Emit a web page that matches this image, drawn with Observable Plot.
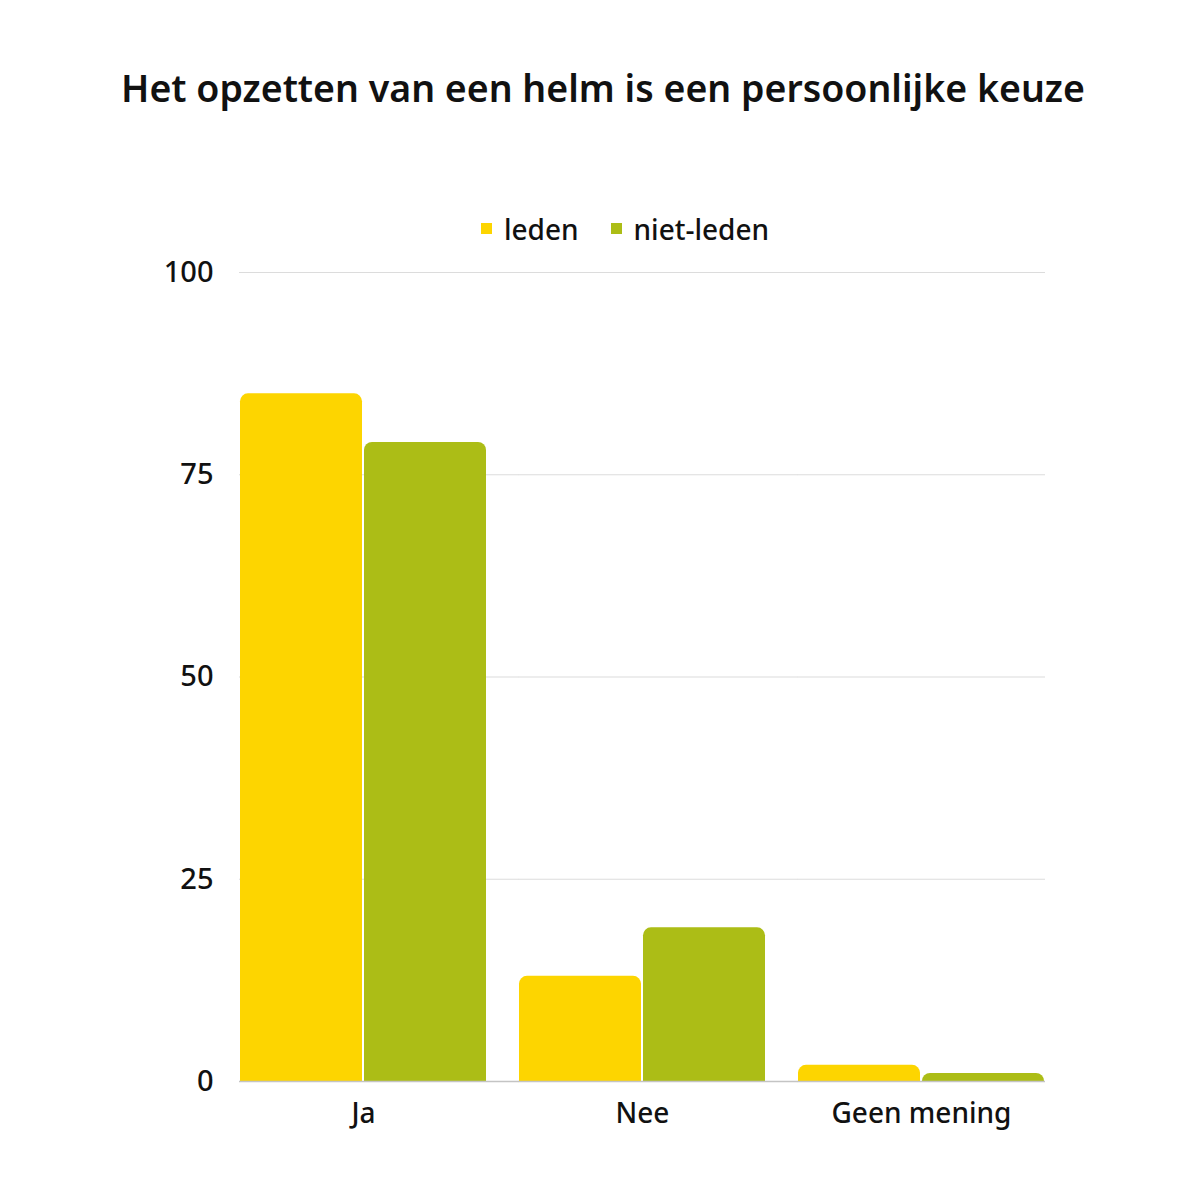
<!DOCTYPE html>
<html>
<head>
<meta charset="utf-8">
<script src="https://cdn.jsdelivr.net/npm/d3@7"></script>
<script src="https://cdn.jsdelivr.net/npm/@observablehq/plot@0.6"></script>
<style>
  html, body { margin: 0; padding: 0; background: #fff; }
  body { width: 1200px; font-family: "Noto Sans", sans-serif; color: #111; }
  #title { box-sizing: border-box; height: 150px; padding-top: 66px; text-align: center; font-size: 37.5px; line-height: 44px; font-weight: 600; padding-left: 6px; }
  #legend { box-sizing: border-box; height: 80px; padding-top: 56px; text-align: center; font-size: 28px; line-height: 34px; font-weight: 500; padding-left: 50px; }
  #legend span.item { display: inline-flex; align-items: center; margin: 0 16px; }
  #legend span.sw { display: inline-block; width: 11px; height: 11px; margin-right: 12px; }
</style>
</head>
<body>
<div id="title">Het opzetten van een helm is een persoonlijke keuze</div>
<div id="legend"></div>
<div id="chart"></div>
<script>
const categories = ["Ja", "Nee", "Geen mening"];
const seriesNames = ["leden", "niet-leden"];
const ledenValues = [85, 13, 2];
const nietLedenValues = [79, 19, 1];
const yTicks = [0, 25, 50, 75, 100];
const colors = ["#FDD500", "#ACBD16"];

const data = [];
categories.forEach((c, i) => {
  data.push({cat: c, series: seriesNames[0], value: ledenValues[i]});
  data.push({cat: c, series: seriesNames[1], value: nietLedenValues[i]});
});

// grid rows per facet (so lines run continuously across the gaps between groups)
const gridInner = [];
const gridLast = [];
categories.forEach((c, i) => {
  yTicks.forEach(t => {
    (i < categories.length - 1 ? gridInner : gridLast).push({cat: c, tick: t});
  });
});

const legend = document.getElementById("legend");
seriesNames.forEach((s, i) => {
  const item = document.createElement("span");
  item.className = "item";
  const sw = document.createElement("span");
  sw.className = "sw";
  sw.style.background = colors[i];
  item.appendChild(sw);
  item.appendChild(document.createTextNode(s));
  legend.appendChild(item);
});

const fxPad = 0.11;
const plotLeft = 238, plotRight = 1047;
const step = (plotRight - plotLeft) / (categories.length - fxPad);
const gap = step * fxPad;

const chart = Plot.plot({
  width: 1200,
  height: 970,
  marginTop: 42,
  marginBottom: 119,
  marginLeft: plotLeft,
  marginRight: 1200 - plotRight,
  style: {fontFamily: "Noto Sans, sans-serif", fontSize: "29px", color: "#111", fontWeight: 500},
  fx: {domain: categories, paddingInner: fxPad, paddingOuter: 0, label: null},
  x: {domain: seriesNames, paddingInner: 0.014, paddingOuter: 0, axis: null},
  y: {domain: [0, 100], axis: null},
  color: {domain: seriesNames, range: colors},
  marks: [
    Plot.ruleY(gridInner, {fx: "cat", y: "tick", stroke: "#dcdcdc", strokeWidth: 1.2, insetRight: -gap - 0.5}),
    Plot.ruleY(gridLast, {fx: "cat", y: "tick", stroke: "#dcdcdc", strokeWidth: 1.2}),
    Plot.barY(data, {fx: "cat", x: "series", y: "value", fill: "series", ry1: 8}),
    Plot.ruleY(gridInner.filter(d => d.tick === 0), {fx: "cat", y: "tick", stroke: "#c4c4c4", strokeWidth: 1.5, insetRight: -gap - 0.5}),
    Plot.ruleY(gridLast.filter(d => d.tick === 0), {fx: "cat", y: "tick", stroke: "#c4c4c4", strokeWidth: 1.5}),
    Plot.axisY(yTicks, {tickSize: 0, tickPadding: 26, fontSize: 29}),
    Plot.axisFx({anchor: "bottom", tickSize: 0, tickPadding: 22, fontSize: 28, label: null})
  ]
});
document.getElementById("chart").appendChild(chart);
</script>
</body>
</html>
